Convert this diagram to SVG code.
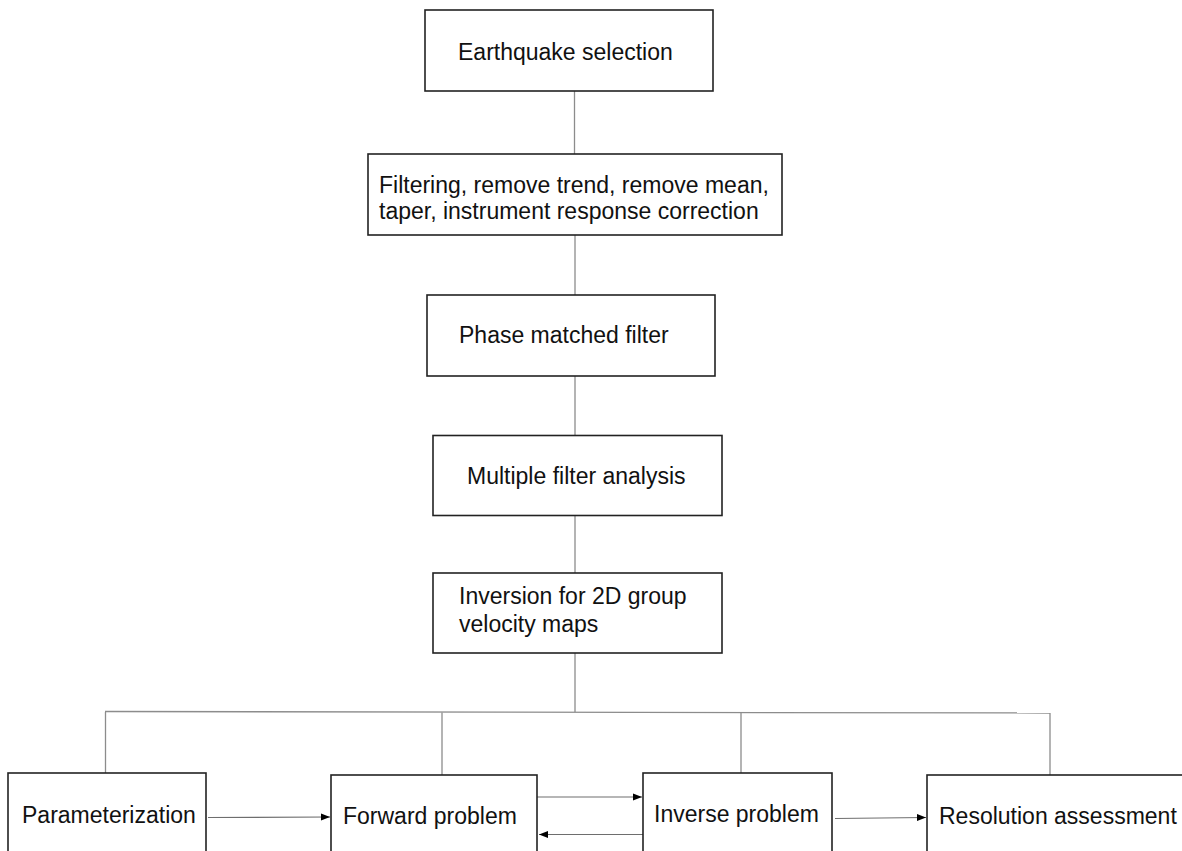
<svg xmlns="http://www.w3.org/2000/svg" width="1182" height="851" viewBox="0 0 1182 851">
  <style>
    .box { fill: #ffffff; stroke: #222222; stroke-width: 1.6; }
    .lbl { font-family: "Liberation Sans", Arial, sans-serif; font-size: 23px; fill: #111111; }
    .conn { stroke: #8c8c8c; stroke-width: 1.3; fill: none; }
    .arr { stroke: #6e6e6e; stroke-width: 1.2; fill: none; marker-end: url(#ah); }
  </style>
  <defs>
    <marker id="ah" markerUnits="userSpaceOnUse" markerWidth="9" markerHeight="8" refX="9" refY="4" orient="auto">
      <path d="M0,0.5 L9,4 L0,7.5 Z" fill="#000000"/>
    </marker>
  </defs>
  <rect width="1182" height="851" fill="#ffffff"/>

  <g id="connectors">
    <line class="conn" x1="574.5" y1="91" x2="574.5" y2="154"/>
    <line class="conn" x1="575" y1="235" x2="575" y2="295"/>
    <line class="conn" x1="575" y1="376" x2="575" y2="435"/>
    <line class="conn" x1="575" y1="516" x2="575" y2="573"/>
    <line class="conn" x1="575" y1="653" x2="575" y2="712"/>
    <line class="conn" x1="105" y1="711.5" x2="1050" y2="713" stroke="#707070"/>
    <line class="conn" x1="105.5" y1="712" x2="105.5" y2="773"/>
    <line class="conn" x1="442" y1="712.5" x2="442" y2="775"/>
    <line class="conn" x1="741" y1="712.5" x2="741" y2="773"/>
    <line class="conn" x1="1050" y1="713" x2="1050" y2="775"/>
    <line class="arr" x1="208" y1="817.5" x2="330" y2="817"/>
    <line class="arr" x1="535" y1="797" x2="642" y2="797"/>
    <line class="arr" x1="643" y1="834.5" x2="539" y2="834.5"/>
    <line class="arr" x1="835" y1="818.5" x2="926" y2="817.5"/>
  </g>

  <g id="n1">
    <rect class="box" x="425" y="10" width="288" height="81"/>
    <text class="lbl" x="458" y="60">Earthquake selection</text>
  </g>
  <g id="n2">
    <rect class="box" x="368" y="154" width="414" height="81"/>
    <text class="lbl" x="379" y="193">Filtering, remove trend, remove mean,</text>
    <text class="lbl" x="379" y="219">taper, instrument response correction</text>
  </g>
  <g id="n3">
    <rect class="box" x="427" y="295" width="288" height="81"/>
    <text class="lbl" x="459" y="343">Phase matched filter</text>
  </g>
  <g id="n4">
    <rect class="box" x="433" y="435.5" width="289" height="80"/>
    <text class="lbl" x="467" y="484">Multiple filter analysis</text>
  </g>
  <g id="n5">
    <rect class="box" x="433" y="573" width="289" height="80"/>
    <text class="lbl" x="459" y="604">Inversion for 2D group</text>
    <text class="lbl" x="459" y="632">velocity maps</text>
  </g>
  <g id="n6">
    <rect class="box" x="8" y="773" width="198" height="100"/>
    <text class="lbl" x="22" y="823">Parameterization</text>
  </g>
  <g id="n7">
    <rect class="box" x="331" y="775" width="206" height="100"/>
    <text class="lbl" x="343" y="824">Forward problem</text>
  </g>
  <g id="n8">
    <rect class="box" x="643" y="773" width="189" height="100"/>
    <text class="lbl" x="654" y="822">Inverse problem</text>
  </g>
  <g id="n9">
    <rect class="box" x="927" y="775" width="300" height="100"/>
    <text class="lbl" x="939" y="824">Resolution assessment</text>
  </g>
</svg>
